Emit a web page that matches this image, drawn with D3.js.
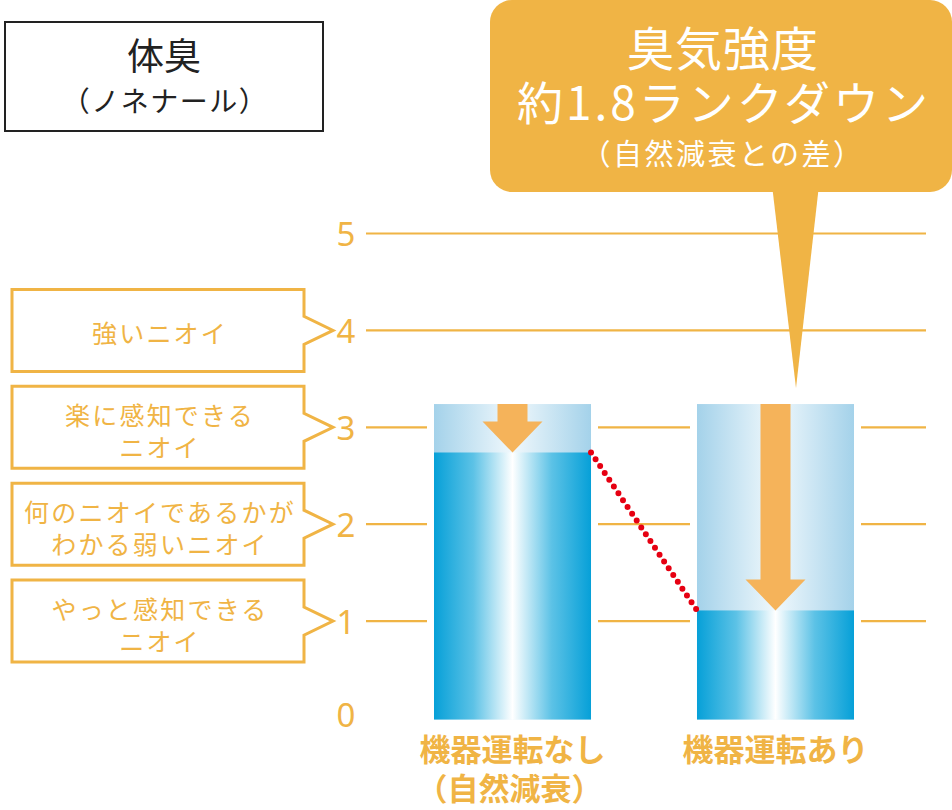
<!DOCTYPE html>
<html><head><meta charset="utf-8">
<script src="https://cdn.jsdelivr.net/npm/d3@7"></script>
<style>
html,body{margin:0;padding:0;background:#fff;}
svg{display:block;font-family:"Noto Sans CJK JP","Noto Sans",sans-serif;}
</style></head>
<body>
<svg id="chart" width="952" height="810"></svg>
<script>
// ---- data ----
const categories = ["機器運転なし", "機器運転あり"];
const categorySub = ["（自然減衰）", ""];
const startValue = [3.24, 3.24];      // initial odor intensity (light top)
const endValue = [2.74, 1.11];        // after time (dark part)
const yTicks = [0, 1, 2, 3, 4, 5];
const levelValues = [4, 3, 2, 1];
const levelLabels = [
  ["強いニオイ"],
  ["楽に感知できる", "ニオイ"],
  ["何のニオイであるかが", "わかる弱いニオイ"],
  ["やっと感知できる", "ニオイ"]
];
const titleLines = ["体臭", "（ノネナール）"];
const calloutLines = ["臭気強度", "約1.8ランクダウン", "（自然減衰との差）"];

// ---- colours ----
const ORANGE = "#f0b445";
const ARROW = "#f5b35a";

const svg = d3.select("#chart");
const y = d3.scaleLinear().domain([0, 5]).range([718, 233.5]);
const x = d3.scaleBand().domain(categories).range([434, 854]).paddingInner(0.403).paddingOuter(0);
const bw = x.bandwidth();

// gradients
const defs = svg.append("defs");
function grad(id, stops) {
  const g = defs.append("linearGradient").attr("id", id).attr("x1", "0%").attr("x2", "100%").attr("y1", "0%").attr("y2", "0%");
  stops.forEach(s => g.append("stop").attr("offset", s[0]).attr("stop-color", s[1]));
}
grad("dark", [["0%", "#06a0d8"], ["25%", "#5cc2e6"], ["50%", "#ffffff"], ["75%", "#5cc2e6"], ["100%", "#06a0d8"]]);
grad("light", [["0%", "#a4d2ea"], ["50%", "#f0f8fc"], ["100%", "#a4d2ea"]]);

// gridlines
svg.append("g").selectAll("line").data(yTicks.filter(d => d > 0)).join("line")
  .attr("x1", 366).attr("x2", 926)
  .attr("y1", d => y(d)).attr("y2", d => y(d))
  .attr("stroke", ORANGE).attr("stroke-width", 2.2);

// tick labels
svg.append("g").selectAll("text").data(yTicks).join("text")
  .attr("x", 346).attr("y", d => y(d) - (d === 0 ? 4 : 0))
  .attr("text-anchor", "middle").attr("dominant-baseline", "central")
  .attr("fill", ORANGE).attr("font-size", 33)
  .attr("font-family", "'Noto Sans','Open Sans',sans-serif")
  .text(d => d);

// white gaps around bars
svg.append("g").selectAll("rect").data(categories).join("rect")
  .attr("x", d => x(d) - 7).attr("width", bw + 14)
  .attr("y", (d, i) => y(startValue[i])).attr("height", (d, i) => y(0) - y(startValue[i]) + 2)
  .attr("fill", "#fff");

// light (initial) bars
svg.append("g").selectAll("rect").data(categories).join("rect")
  .attr("x", d => x(d)).attr("width", bw)
  .attr("y", (d, i) => y(startValue[i])).attr("height", (d, i) => y(0) - y(startValue[i]) + 1.5)
  .attr("fill", "url(#light)");

// dark (after) bars
svg.append("g").selectAll("rect").data(categories).join("rect")
  .attr("x", d => x(d)).attr("width", bw)
  .attr("y", (d, i) => y(endValue[i])).attr("height", (d, i) => y(0) - y(endValue[i]) + 1.5)
  .attr("fill", "url(#dark)");

// arrows
svg.append("g").selectAll("path").data(categories).join("path")
  .attr("d", (d, i) => {
    const cx = x(d) + bw / 2;
    const top = y(startValue[i]), tip = y(endValue[i]);
    const headL = 31, sw = 15, hw = 30;
    const hb = tip - headL;
    return `M${cx - sw},${top} L${cx + sw},${top} L${cx + sw},${hb} L${cx + hw},${hb} L${cx},${tip} L${cx - hw},${hb} L${cx - sw},${hb} Z`;
  })
  .attr("fill", ARROW);

// red dotted connector
svg.append("line")
  .attr("x1", x(categories[0]) + bw).attr("y1", y(endValue[0]))
  .attr("x2", x(categories[1])).attr("y2", y(endValue[1]))
  .attr("stroke", "#e60012").attr("stroke-width", 6)
  .attr("stroke-linecap", "round").attr("stroke-dasharray", "0 8.2");

// category labels
const cl = svg.append("g").attr("fill", ORANGE).attr("font-size", 31).attr("font-weight", 700).attr("text-anchor", "middle");
cl.selectAll("text.c").data(categories).join("text").attr("class", "c")
  .attr("x", d => x(d) + bw / 2).attr("y", 747).attr("dominant-baseline", "central").text(d => d);
cl.selectAll("text.s").data(categories).join("text").attr("class", "s")
  .attr("x", d => x(d) + bw / 2 - 3).attr("y", 786).attr("dominant-baseline", "central").text((d, i) => categorySub[i]);

// level boxes on left
const lb = svg.append("g").selectAll("g").data(levelValues).join("g");
lb.append("path")
  .attr("d", d => {
    const c = y(d), t = c - 41, b = c + 41;
    return `M12,${t} L304,${t} L304,${c - 14} L333,${c} L304,${c + 14} L304,${b} L12,${b} Z`;
  })
  .attr("fill", "#fff").attr("stroke", ORANGE).attr("stroke-width", 3);
lb.each(function (d, i) {
  const lines = levelLabels[i];
  const c = y(d);
  const offs = lines.length === 1 ? [2] : [-13, 19];
  d3.select(this).selectAll("text").data(lines).join("text")
    .attr("x", 160).attr("y", (t, j) => c + offs[j])
    .attr("text-anchor", "middle").attr("dominant-baseline", "central")
    .attr("fill", ORANGE).attr("font-size", 25).attr("letter-spacing", 2.2).text(t => t);
});

// title box
svg.append("rect").attr("x", 5).attr("y", 22).attr("width", 318).attr("height", 109)
  .attr("fill", "#fff").attr("stroke", "#222").attr("stroke-width", 2);
svg.append("text").attr("x", 164).attr("y", 54).attr("text-anchor", "middle").attr("dominant-baseline", "central")
  .attr("font-size", 37).attr("fill", "#222").text(titleLines[0]);
svg.append("text").attr("x", 165).attr("y", 100).attr("text-anchor", "middle").attr("dominant-baseline", "central")
  .attr("font-size", 28).attr("letter-spacing", 1.5).attr("fill", "#222").text(titleLines[1]);

// callout
const co = svg.append("g");
co.append("path").attr("d", "M772,185 L819,185 L796,388 Z").attr("fill", ORANGE);
co.append("rect").attr("x", 490).attr("y", 0).attr("width", 462).attr("height", 192).attr("rx", 22).attr("fill", ORANGE);
co.append("text").attr("x", 723).attr("y", 45).attr("text-anchor", "middle").attr("dominant-baseline", "central")
  .attr("font-size", 47).attr("letter-spacing", 1).attr("fill", "#fff").text(calloutLines[0]);
co.append("text").attr("x", 724).attr("y", 100).attr("text-anchor", "middle").attr("dominant-baseline", "central")
  .attr("font-size", 46).attr("letter-spacing", 3).attr("fill", "#fff").text(calloutLines[1]);
co.append("text").attr("x", 723).attr("y", 152).attr("text-anchor", "middle").attr("dominant-baseline", "central")
  .attr("font-size", 29).attr("letter-spacing", 2.5).attr("fill", "#fff").text(calloutLines[2]);
</script>
</body></html>
